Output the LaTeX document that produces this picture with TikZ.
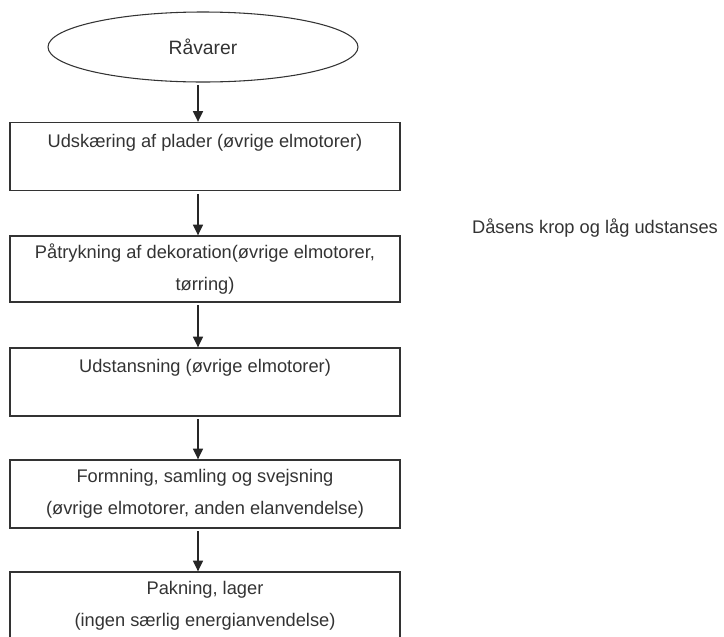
\documentclass[tikz,border=0pt]{standalone}
\usepackage{fontspec}
\setmainfont{Liberation Sans}
\usepackage{tikz}
\usetikzlibrary{positioning,arrows.meta,shapes.geometric}
\usepackage{xcolor}

\begin{document}
\begin{tikzpicture}[x=0.75pt,y=-0.75pt,
    trin/.style={rectangle,draw=black!80,line width=1pt,minimum width=292.5pt,
        minimum height=51pt,align=center,text=black!80,
        font=\fontsize{13.7}{24}\selectfont},
    flow/.style={draw=black!85,line width=1pt,shorten <=2pt,
        -{Triangle[width=7.5pt,length=8pt]}}]
\useasboundingbox (0,0) rectangle (724,636);
\clip (0,0) rectangle (724,636);
\coordinate (spine) at (198,0);
% start
\node (raw) at (203,47) [ellipse,draw=black!80,line width=0.8pt,minimum width=232.5pt,
    minimum height=52.5pt,text=black!80,font=\fontsize{14.5}{16}\selectfont] {Råvarer};
% processtrin
\node (skaer) at (205,156.5) [trin] {Udskæring af plader (øvrige elmotorer)\\ \mbox{}};
\node (tryk) at (205,269) [trin,minimum height=49.5pt] {Påtrykning af dekoration(øvrige elmotorer,\\ tørring)};
\node (stans) at (205,382) [trin] {Udstansning (øvrige elmotorer)\\ \mbox{}};
\node (form) at (205,494) [trin] {Formning, samling og svejsning\\ (øvrige elmotorer, anden elanvendelse)};
\node (pak) at (205,606) [trin] {Pakning, lager\\ (ingen særlig energianvendelse)};
% note
\node (note) at (595,228) [text=black!80,font=\fontsize{13.7}{16}\selectfont] {Dåsens krop og låg udstanses};
% pile
\draw[flow] (raw.south -| spine) -- (skaer.north -| spine);
\draw[flow] (skaer.south -| spine) -- (tryk.north -| spine);
\draw[flow] (tryk.south -| spine) -- (stans.north -| spine);
\draw[flow] (stans.south -| spine) -- (form.north -| spine);
\draw[flow] (form.south -| spine) -- (pak.north -| spine);
\end{tikzpicture}
\end{document}
